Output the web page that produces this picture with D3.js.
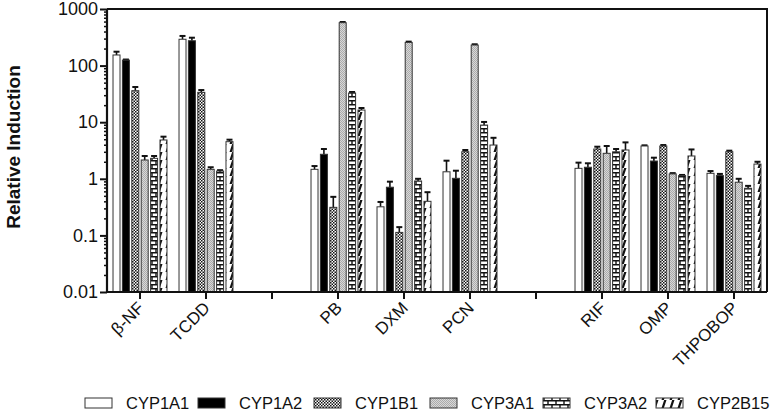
<!DOCTYPE html>
<html><head><meta charset="utf-8">
<script src="https://cdn.jsdelivr.net/npm/d3@7"></script>
<style>
html,body{margin:0;padding:0;background:#fff;}
svg{display:block;font-family:"Liberation Sans",Arial,sans-serif;}
</style></head>
<body><svg id="chart" width="770" height="413"></svg>
<script>
// ---- data ----
const categoryKeys = ["bNF","TCDD","gap1","PB","DXM","PCN","gap2","RIF","OMP","THPOBOP"];
const categoryLabels = ["β-NF","TCDD","","PB","DXM","PCN","","RIF","OMP","THPOBOP"];
const seriesNames = ["CYP1A1","CYP1A2","CYP1B1","CYP3A1","CYP3A2","CYP2B15"];
const CYP1A1 = [154, 292, null, 1.47, 0.32, 1.33, null, 1.53, 3.8, 1.25];
const CYP1A1_err = [176, 334, null, 1.68, 0.39, 2.09, null, 1.93, 3.9, 1.37];
const CYP1A2 = [125, 275, null, 2.71, 0.71, 1.02, null, 1.6, 2.06, 1.14];
const CYP1A2_err = [128, 311, null, 3.36, 0.89, 1.39, null, 1.88, 2.36, 1.22];
const CYP1B1 = [36, 33.7, null, 0.313, 0.113, 3.01, null, 3.36, 3.8, 3.01];
const CYP1B1_err = [41.9, 37, null, 0.48, 0.14, 3.23, null, 3.69, 3.95, 3.14];
const CYP3A1 = [2.15, 1.47, null, 573, 257, 231, null, 2.82, 1.22, 0.87];
const CYP3A1_err = [2.53, 1.6, null, 590, 265, 238, null, 3.8, 1.26, 1.0];
const CYP3A2 = [2.3, 1.37, null, 32.8, 0.915, 8.9, null, 3.0, 1.14, 0.68];
const CYP3A2_err = [2.53, 1.42, null, 34.2, 1.0, 10.1, null, 3.36, 1.17, 0.75];
const CYP2B15 = [4.85, 4.53, null, 16.4, 0.40, 3.95, null, 3.23, 2.53, 1.82];
const CYP2B15_err = [5.55, 4.91, null, 17.8, 0.58, 5.3, null, 4.4, 3.3, 2.0];
const yTickValues = [0.01, 0.1, 1, 10, 100, 1000];
const yTickLabels = ["0.01","0.1","1","10","100","1000"];

const seriesValues = [CYP1A1, CYP1A2, CYP1B1, CYP3A1, CYP3A2, CYP2B15];
const seriesErr = [CYP1A1_err, CYP1A2_err, CYP1B1_err, CYP3A1_err, CYP3A2_err, CYP2B15_err];

// ---- layout ----
const svg = d3.select("#chart");
const mLeft = 107, mRight = 767, mTop = 9, mBottom = 292;

const x0 = d3.scaleBand().domain(categoryKeys).range([mLeft, mRight]).padding(0);
const x1 = d3.scaleBand().domain(seriesNames).range([0, x0.bandwidth()]).paddingInner(0.255).paddingOuter(0.64);
const y = d3.scaleLog().domain([0.01, 1000]).range([mBottom, mTop]);

// ---- patterns ----
const defs = svg.append("defs");
let p = defs.append("pattern").attr("id","pChk").attr("patternUnits","userSpaceOnUse").attr("width",3).attr("height",3);
p.append("rect").attr("width",3).attr("height",3).attr("fill","#fff");
p.append("rect").attr("x",0).attr("y",0).attr("width",1.5).attr("height",1.5).attr("fill","#111");
p.append("rect").attr("x",1.5).attr("y",1.5).attr("width",1.5).attr("height",1.5).attr("fill","#111");
p = defs.append("pattern").attr("id","pGray").attr("patternUnits","userSpaceOnUse").attr("width",2).attr("height",2);
p.append("rect").attr("width",2).attr("height",2).attr("fill","#d8d8d8");
p.append("rect").attr("width",1).attr("height",1).attr("fill","#ababab");
p.append("rect").attr("x",1).attr("y",1).attr("width",1).attr("height",1).attr("fill","#ababab");
p = defs.append("pattern").attr("id","pBrick").attr("patternUnits","userSpaceOnUse").attr("width",8).attr("height",8);
p.append("rect").attr("width",8).attr("height",8).attr("fill","#fff");
p.append("path").attr("d","M0,0.7H8M0,4.7H8M4,0V4.7M0,4.7V8M8,4.7V8").attr("stroke","#111").attr("stroke-width",1.4).attr("fill","none");
p = defs.append("pattern").attr("id","pDiag").attr("patternUnits","userSpaceOnUse").attr("width",8).attr("height",8);
p.append("rect").attr("width",8).attr("height",8).attr("fill","#fff");
p.append("path").attr("d","M-2,10L2,-2M6,10L10,-2").attr("stroke","#111").attr("stroke-width",2.2).attr("fill","none");

const fills = ["#fff","#000","url(#pChk)","url(#pGray)","url(#pBrick)","url(#pDiag)"];

// ---- bars ----
const g = svg.append("g");
seriesNames.forEach((s, si) => {
  categoryKeys.forEach((c, ci) => {
    const v = seriesValues[si][ci];
    if (v == null) return;
    const bx = x0(c) + x1(s);
    const bw = x1.bandwidth();
    const e = seriesErr[si][ci];
    const cx = bx + bw / 2;
    g.append("line").attr("x1",cx).attr("x2",cx).attr("y1",y(v)).attr("y2",y(e))
      .attr("stroke","#111").attr("stroke-width",1.6);
    g.append("line").attr("x1",cx-3).attr("x2",cx+3).attr("y1",y(e)).attr("y2",y(e))
      .attr("stroke","#111").attr("stroke-width",2);
    g.append("rect").attr("x",bx).attr("y",y(v)).attr("width",bw).attr("height",y(0.01)-y(v))
      .attr("fill",fills[si]).attr("stroke","#333").attr("stroke-width",1);
  });
});

// ---- frame ----
svg.append("path").attr("d",`M${mLeft},${mTop}H${mRight}V${mBottom}`).attr("fill","none").attr("stroke","#111").attr("stroke-width",2);

// ---- y axis ----
const minorTicks = [];
for (let d = -2; d < 3; d++) for (let k = 2; k <= 9; k++) minorTicks.push(k * Math.pow(10, d));
const yAxisMinor = d3.axisLeft(y).tickValues(minorTicks).tickSize(3).tickFormat("");
const ga2 = svg.append("g").attr("transform",`translate(${mLeft},0)`).call(yAxisMinor);
ga2.select(".domain").remove();
ga2.selectAll(".tick line").attr("stroke","#111").attr("stroke-width",1.5);
const yAxis = d3.axisLeft(y).tickValues(yTickValues).tickSize(7).tickPadding(2)
  .tickFormat((d,i) => yTickLabels[i]);
const ga = svg.append("g").attr("transform",`translate(${mLeft},0)`).call(yAxis);
ga.select(".domain").attr("stroke","#111").attr("stroke-width",2.2).attr("d",`M0,${mBottom}V${mTop}`);
ga.selectAll(".tick line").attr("stroke","#111").attr("stroke-width",2);
ga.selectAll(".tick text").attr("font-size",18).attr("fill","#111").attr("font-family","Liberation Sans, Arial, sans-serif");

// ---- x axis ----
const xAxis = d3.axisBottom(x0).tickSize(7).tickFormat("");
const gx = svg.append("g").attr("transform",`translate(0,${mBottom})`).call(xAxis);
gx.select(".domain").attr("stroke","#111").attr("stroke-width",2.2).attr("d",`M${mLeft},0H${mRight}`);
gx.selectAll(".tick line").attr("stroke","#111").attr("stroke-width",2);
categoryKeys.forEach((c, i) => {
  if (!categoryLabels[i]) return;
  const cx = x0(c) + x0.bandwidth()/2;
  svg.append("text").attr("transform",`translate(${cx+5},${mBottom+17}) rotate(-45)`)
    .attr("text-anchor","end").attr("font-size",17).attr("fill","#111").text(categoryLabels[i]);
});

// ---- y title ----
svg.append("text").attr("transform","translate(20,147) rotate(-90)").attr("text-anchor","middle")
  .attr("font-size",19).attr("font-weight","bold").attr("fill","#111").text("Relative Induction");

// ---- legend ----
const legX = [85, 198, 314, 430, 543, 656];
const lg = svg.append("g");
seriesNames.forEach((s, i) => {
  lg.append("rect").attr("x",legX[i]).attr("y",398).attr("width",27).attr("height",10)
    .attr("fill",fills[i]).attr("stroke","#333").attr("stroke-width",1);
  lg.append("text").attr("x",legX[i]+41).attr("y",409).attr("font-size",16.5).attr("fill","#111").text(s);
});
</script></body></html>
